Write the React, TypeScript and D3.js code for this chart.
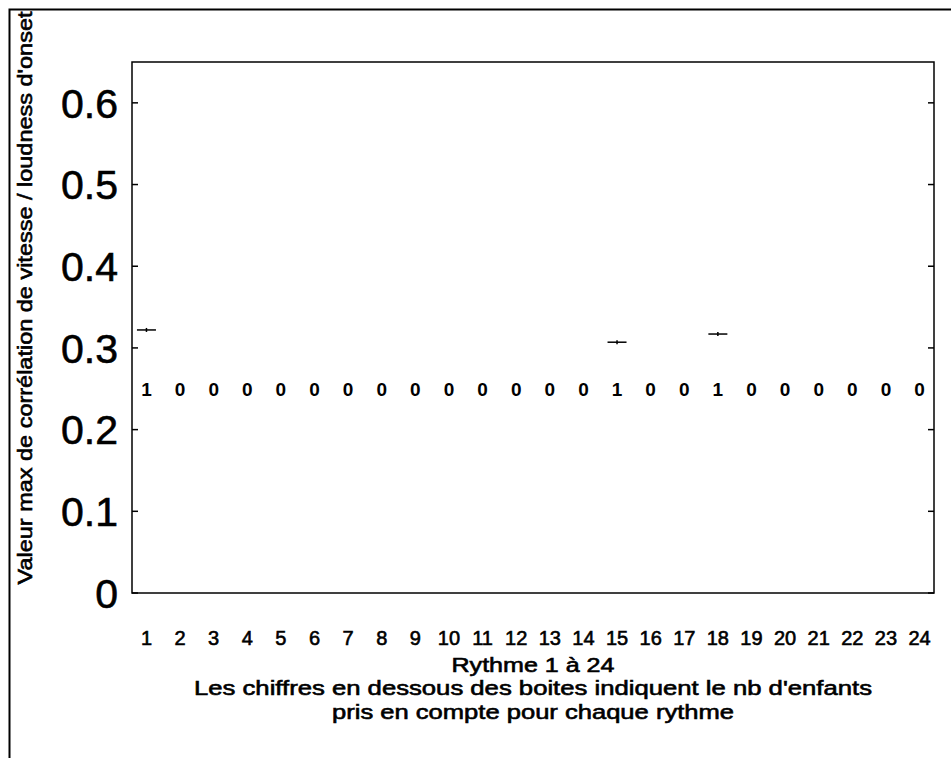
import React from "react";
import * as d3 from "d3";

const rythmes = d3.range(1, 25);
const counts = [1, 0, 0, 0, 0, 0, 0, 0, 0, 0, 0, 0, 0, 0, 1, 0, 0, 1, 0, 0, 0, 0, 0, 0];
// max correlation values for rythmes with at least one child (single-value boxes)
const boxRythmes = [1, 15, 18];
const boxValues = [0.322, 0.307, 0.317];
const yTicks = [0, 0.1, 0.2, 0.3, 0.4, 0.5, 0.6];
const yTickLabels = ["0", "0.1", "0.2", "0.3", "0.4", "0.5", "0.6"];
const countLabelLevel = 0.25;
const yLabel = "Valeur max de corrélation de vitesse / loudness d'onset";
const xLabelLines = [
  "Rythme 1 à 24",
  "Les chiffres en dessous des boites indiquent le nb d'enfants",
  "pris en compte pour chaque rythme",
];

export default function App() {
  const W = 951, H = 758;
  const L = 132, R = 934, T = 62, B = 593;
  const font = "'Liberation Sans', Arial, Helvetica, sans-serif";
  const x = d3.scalePoint<number>().domain(rythmes).range([L, R]).padding(0.43);
  const y = d3.scaleLinear().domain([0, 0.65]).range([B, T]);
  const tickLen = 6;
  const boxHalf = 9.5;
  const xLabelBaselines = [672, 695, 719];
  const xLabelLengths = [163, 678, 402];
  const cx = (L + R) / 2;
  const heavy = { stroke: "#000", strokeWidth: 0.6 };

  return (
    <svg
      width={W}
      height={H}
      style={{ position: "absolute", left: 0, top: 0, background: "#fff" }}
      fontFamily={font}
    >
      <rect x={0} y={0} width={W} height={H} fill="#fff" />
      {/* outer frame */}
      <rect x={9.5} y={9.5} width={W + 20} height={H + 20} fill="none" stroke="#000" strokeWidth={2} />
      {/* plot box */}
      <rect x={L} y={T} width={R - L} height={B - T} fill="none" stroke="#000" strokeWidth={1.5} />
      {/* y ticks */}
      {yTicks.map((t, i) => (
        <g key={i}>
          <line x1={L} x2={L + tickLen} y1={y(t)} y2={y(t)} stroke="#000" strokeWidth={1.5} />
          <line x1={R} x2={R - tickLen} y1={y(t)} y2={y(t)} stroke="#000" strokeWidth={1.5} />
          <text x={118} y={y(t)} dy="0.36em" textAnchor="end" fontSize={41} fill="#000" {...heavy}>
            {yTickLabels[i]}
          </text>
        </g>
      ))}
      {/* x tick labels */}
      {rythmes.map((r) => (
        <text key={r} x={x(r)} y={645} textAnchor="middle" fontSize={20} fill="#000" {...heavy}>
          {r}
        </text>
      ))}
      {/* box markers */}
      {boxRythmes.map((r, i) => (
        <g key={r}>
          <line
            x1={(x(r) as number) - boxHalf}
            x2={(x(r) as number) + boxHalf}
            y1={y(boxValues[i])}
            y2={y(boxValues[i])}
            stroke="#000"
            strokeWidth={1.5}
          />
          <line
            x1={x(r) as number}
            x2={x(r) as number}
            y1={y(boxValues[i]) - 2}
            y2={y(boxValues[i]) + 2}
            stroke="#000"
            strokeWidth={1.5}
          />
        </g>
      ))}
      {/* counts */}
      {rythmes.map((r, i) => (
        <text
          key={r}
          x={x(r)}
          y={y(countLabelLevel)}
          dy="0.36em"
          textAnchor="middle"
          fontSize={19}
          fontWeight="bold"
          fill="#000"
        >
          {counts[i]}
        </text>
      ))}
      {/* x label lines */}
      {xLabelLines.map((t, i) => (
        <text
          key={i}
          x={cx}
          y={xLabelBaselines[i]}
          textAnchor="middle"
          fontSize={20}
          textLength={xLabelLengths[i]}
          lengthAdjust="spacingAndGlyphs"
          fill="#000"
          {...heavy}
        >
          {t}
        </text>
      ))}
      {/* y label */}
      <text
        transform={`translate(32, 298) rotate(-90)`}
        textAnchor="middle"
        fontSize={20}
        textLength={573}
        lengthAdjust="spacingAndGlyphs"
        fill="#000"
        {...heavy}
      >
        {yLabel}
      </text>
    </svg>
  );
}
